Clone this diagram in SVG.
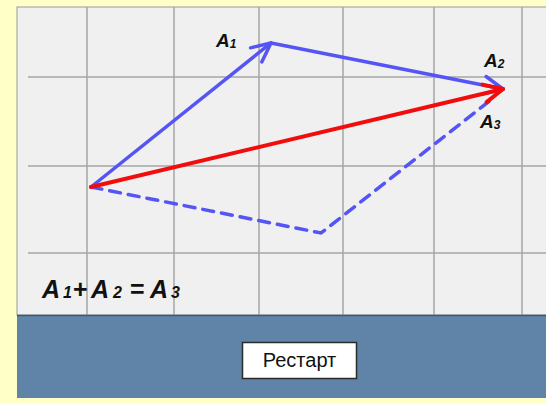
<svg xmlns="http://www.w3.org/2000/svg" width="546" height="404" viewBox="0 0 546 404">
<defs>
<style>
.grid{stroke:#a6a6a6;stroke-width:1.5}
.lbl{font-family:"Liberation Sans",Arial,sans-serif;font-weight:bold;font-style:italic;fill:#111}
.blue{stroke:#5555f5;stroke-width:3.5;fill:none;stroke-linecap:round}
.red{stroke:#f20d0d;stroke-width:4;fill:none;stroke-linecap:round}
</style>
<marker id="ab" markerUnits="userSpaceOnUse" markerWidth="28" markerHeight="28" refX="23" refY="14" orient="auto" viewBox="0 0 28 28">
<path d="M4,5 L23,14 L4,23" fill="none" stroke="#5555f5" stroke-width="3.5" stroke-linecap="round" stroke-linejoin="round"/>
</marker>
<marker id="ar" markerUnits="userSpaceOnUse" markerWidth="28" markerHeight="28" refX="23" refY="14" orient="auto" viewBox="0 0 28 28">
<path d="M4,5 L23,14 L4,23" fill="none" stroke="#f20d0d" stroke-width="4" stroke-linecap="round" stroke-linejoin="round"/>
</marker>
</defs>
<rect width="546" height="404" fill="#ffffc8"/>
<g id="panel">
<rect x="17" y="7" width="535" height="308" fill="#f0f0f0" stroke="#9a9a9a" stroke-width="1"/>
<g class="grid">
<line x1="87" y1="7" x2="87" y2="315"/>
<line x1="174" y1="7" x2="174" y2="315"/>
<line x1="259" y1="7" x2="259" y2="315"/>
<line x1="343" y1="7" x2="343" y2="315"/>
<line x1="434" y1="7" x2="434" y2="315"/>
<line x1="522" y1="7" x2="522" y2="315"/>
<line x1="28" y1="77" x2="546" y2="77"/>
<line x1="28" y1="166" x2="546" y2="166"/>
<line x1="28" y1="253" x2="546" y2="253"/>
</g>
<rect x="17" y="315" width="535" height="83" fill="#5f84a8"/>
<line x1="17" y1="315.5" x2="546" y2="315.5" stroke="#3f5570" stroke-width="1.5"/>
</g>
<g id="connectors">
<path class="blue" d="M91,187 L321,233 L492,99" stroke-dasharray="11,8"/>
<line class="blue" x1="91" y1="187" x2="271" y2="43" marker-end="url(#ab)"/>
<line class="blue" x1="271" y1="43" x2="503" y2="89" marker-end="url(#ab)"/>
<line class="red" x1="91" y1="187" x2="503" y2="89" marker-end="url(#ar)"/>
</g>
<g id="labels">
<text class="lbl" x="216" y="47" font-size="19">A<tspan font-size="12" dy="1">1</tspan></text>
<text class="lbl" x="484" y="67" font-size="19">A<tspan font-size="12" dy="1">2</tspan></text>
<text class="lbl" x="480" y="128" font-size="19">A<tspan font-size="12" dy="1">3</tspan></text>
<text class="lbl" font-size="25"><tspan x="42" y="298">A</tspan><tspan x="63" y="298" font-size="16">1</tspan><tspan x="73" y="298" font-style="normal">+</tspan><tspan x="91" y="298">A</tspan><tspan x="113" y="298" font-size="16">2</tspan><tspan x="130" y="298" font-style="normal">=</tspan><tspan x="150" y="298">A</tspan><tspan x="171" y="298" font-size="16">3</tspan></text>
</g>
<g id="restart">
<rect x="242.5" y="342.5" width="114" height="36" fill="#fff" stroke="#2a2a2a" stroke-width="1.5"/>
<text x="299.5" y="367" text-anchor="middle" font-family="Liberation Sans,Arial,sans-serif" font-size="20" fill="#111">Рестарт</text>
</g>
</svg>
